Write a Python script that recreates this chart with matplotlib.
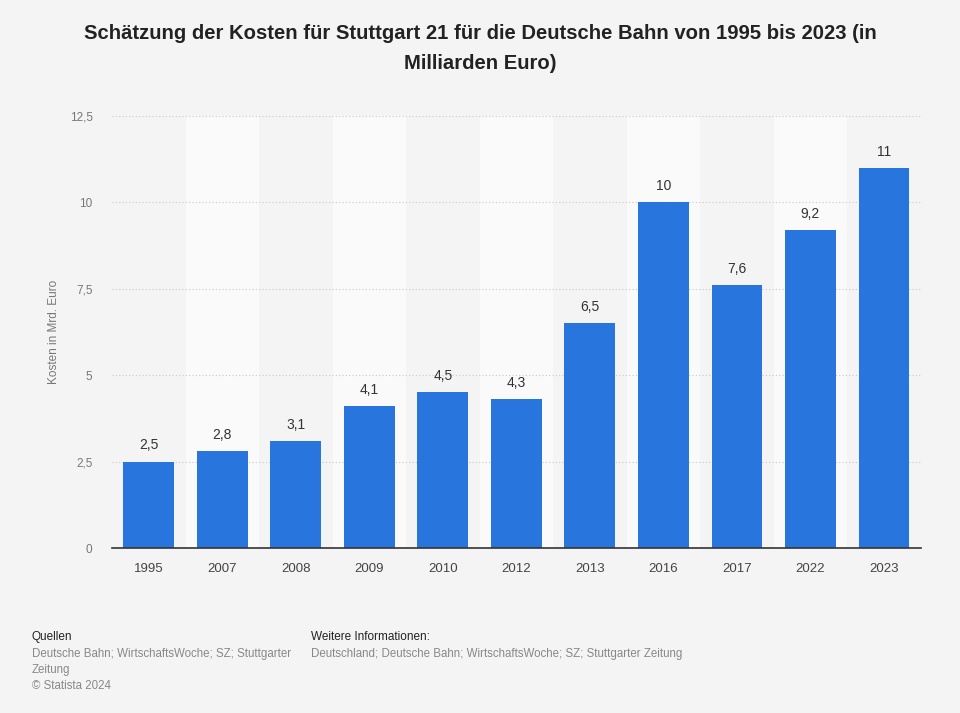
import numpy as np
import matplotlib.pyplot as plt
from matplotlib import rcParams

rcParams['font.family'] = ['Liberation Sans', 'DejaVu Sans']

# Daten
jahre = ['1995', '2007', '2008', '2009', '2010', '2012', '2013', '2016', '2017', '2022', '2023']
kosten = [2.5, 2.8, 3.1, 4.1, 4.5, 4.3, 6.5, 10, 7.6, 9.2, 11]
y_ticks = [0, 2.5, 5, 7.5, 10, 12.5]

bg = '#f4f4f4'
fig = plt.figure(figsize=(9.6, 7.13), dpi=100, facecolor=bg)
ax = fig.add_axes([0.1167, 0.2314, 0.8423, 0.6059])
ax.set_facecolor(bg)

x = np.arange(len(jahre))
# helle Streifen hinter jeder zweiten Kategorie
for i in x:
    if i % 2 == 1:
        ax.axvspan(i - 0.5, i + 0.5, color='#fafafa', zorder=0, lw=0)

ax.bar(x, kosten, width=0.69, color='#2876dd', zorder=3)
for xi, v in zip(x, kosten):
    lbl = ('%g' % v).replace('.', ',')
    ax.text(xi, v + 0.27, lbl, ha='center', va='bottom', fontsize=10, color='#333333', zorder=4)

ax.set_xlim(-0.5, len(jahre) - 0.5)
ax.set_ylim(0, 12.5)
ax.set_xticks(x)
ax.set_xticklabels(jahre, fontsize=9.5, color='#444444')
ax.set_yticks(y_ticks)
ax.set_yticklabels([('%g' % t).replace('.', ',') for t in y_ticks], fontsize=8.5, color='#777777')
ax.tick_params(axis='both', length=0)
ax.tick_params(axis='x', pad=11)
ax.tick_params(axis='y', pad=14)
for t in y_ticks[1:]:
    ax.axhline(t, color='#c8c8c8', lw=0.8, ls=(0, (1, 2)), zorder=1)
for s in ['top', 'right', 'left']:
    ax.spines[s].set_visible(False)
ax.spines['bottom'].set_color('#333333')
ax.spines['bottom'].set_linewidth(1.2)
ax.spines['bottom'].set_zorder(5)
ax.set_ylabel('Kosten in Mrd. Euro', fontsize=8.5, color='#777777')
ax.yaxis.set_label_coords(-0.064, 0.5)

fig.text(0.5, 0.966, 'Schätzung der Kosten für Stuttgart 21 für die Deutsche Bahn von 1995 bis 2023 (in\nMilliarden Euro)',
         ha='center', va='top', fontsize=14.6, fontweight='bold', color='#222222', linespacing=1.75)

# Fußzeile
fig.text(32 / 960, 1 - 637 / 713, 'Quellen', fontsize=8.5, color='#222222', va='center')
fig.text(32 / 960, 1 - 648 / 713, 'Deutsche Bahn; WirtschaftsWoche; SZ; Stuttgarter\nZeitung\n© Statista 2024',
         fontsize=8.3, color='#888888', va='top', linespacing=1.45)
fig.text(311 / 960, 1 - 637 / 713, 'Weitere Informationen:', fontsize=8.5, color='#222222', va='center')
fig.text(311 / 960, 1 - 654 / 713, 'Deutschland; Deutsche Bahn; WirtschaftsWoche; SZ; Stuttgarter Zeitung',
         fontsize=8.3, color='#888888', va='center')

plt.savefig('out.png', dpi=100, facecolor=bg)
